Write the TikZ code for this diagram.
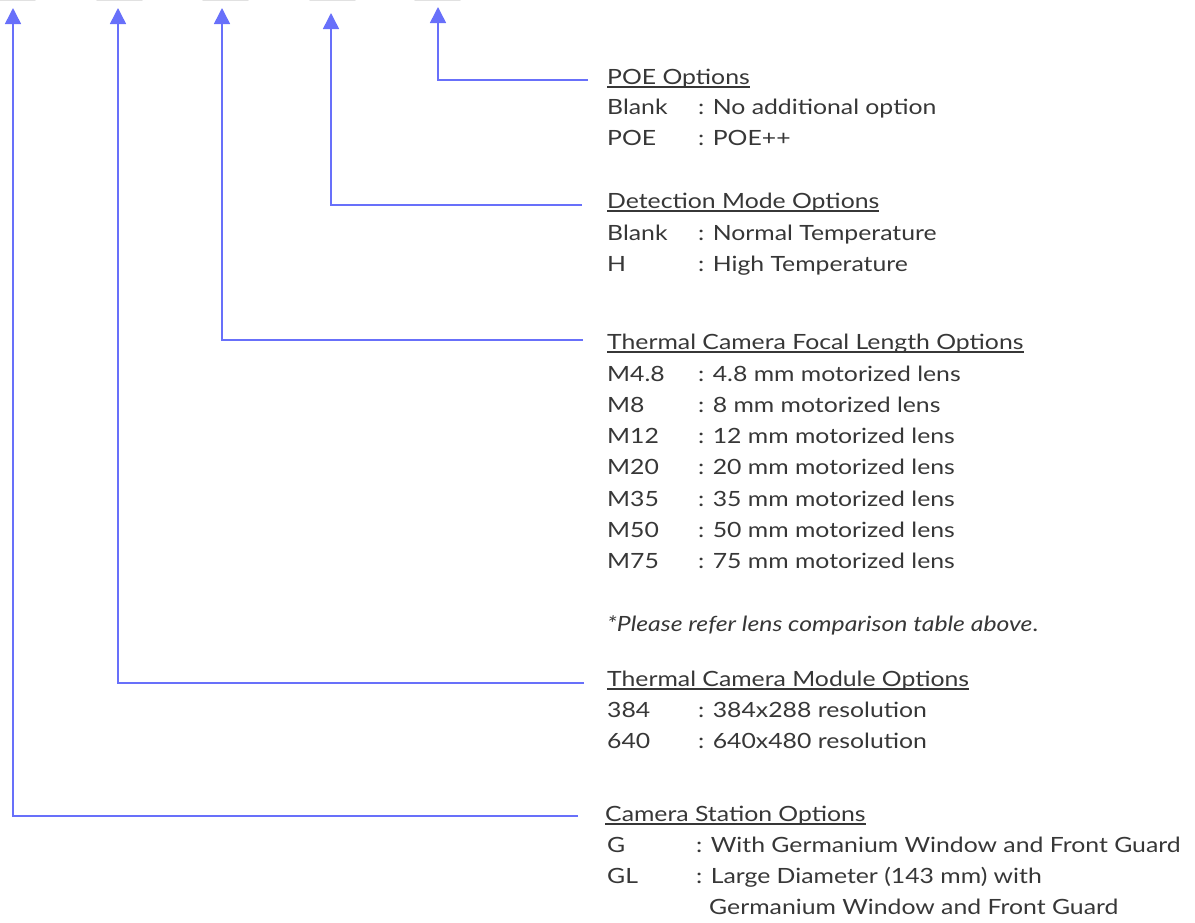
\documentclass[tikz,border=0pt]{standalone}
\usepackage{fontspec}
\setmainfont{Lato}[FakeStretch=1.18]
\usetikzlibrary{arrows.meta}
\definecolor{linec}{RGB}{104,112,250}
\definecolor{txt}{RGB}{55,55,55}
\definecolor{boxedge}{RGB}{225,225,225}
\tikzset{
  lbl/.style={anchor=base west, inner sep=0pt, text=txt, font=\fontsize{21}{25}\selectfont},
  hdr/.style={lbl},
  conn/.style={draw=linec, line width=1.5pt, -{Triangle[width=16pt,length=16pt]}},
  uline/.style={draw=txt, line width=1.1pt},
  topedge/.style={draw=boxedge, line width=2pt, line cap=round}
}
\begin{document}
\begin{tikzpicture}[x=1pt,y=-1pt]
\useasboundingbox (0,0) rectangle (1195,922);
% faint bottom edges of boxes above
\foreach \a/\b in {-5/35,97/142,203/248,310/355,415/460}
  \draw[topedge] (\a,0) -- (\b,0);

% arrow tips
\coordinate (t1) at (13,8);
\coordinate (t2) at (118,8);
\coordinate (t3) at (222,8);
\coordinate (t4) at (331,13);
\coordinate (t5) at (438,7);

% line ends
\coordinate (e5) at (588,80);
\coordinate (e4) at (582,205);
\coordinate (e3) at (583,340);
\coordinate (e2) at (584,683);
\coordinate (e1) at (578,816);

% POE
\node[hdr] (h5) at (607,84) {POE Options};
\node[lbl] (p1a) at (607,114) {Blank};
\node[lbl] (p1b) at (698,114) {: No additional option};
\node[lbl] (p2a) at (607,145) {POE};
\node[lbl] (p2b) at (698,145) {: POE++};

% Detection
\node[hdr] (h4) at (607,208) {Detection Mode Options};
\node[lbl] (d1a) at (607,240) {Blank};
\node[lbl] (d1b) at (698,240) {: Normal Temperature};
\node[lbl] (d2a) at (607,271) {H};
\node[lbl] (d2b) at (698,271) {: High Temperature};

% Focal length
\node[hdr] (h3) at (607,349) {Thermal Camera Focal Length Options};
\node[lbl] (f1a) at (607,381) {M4.8};
\node[lbl] (f1b) at (698,381) {: 4.8 mm motorized lens};
\node[lbl] (f2a) at (607,412) {M8};
\node[lbl] (f2b) at (698,412) {: 8 mm motorized lens};
\node[lbl] (f3a) at (607,443) {M12};
\node[lbl] (f3b) at (698,443) {: 12 mm motorized lens};
\node[lbl] (f4a) at (607,474) {M20};
\node[lbl] (f4b) at (698,474) {: 20 mm motorized lens};
\node[lbl] (f5a) at (607,506) {M35};
\node[lbl] (f5b) at (698,506) {: 35 mm motorized lens};
\node[lbl] (f6a) at (607,537) {M50};
\node[lbl] (f6b) at (698,537) {: 50 mm motorized lens};
\node[lbl] (f7a) at (607,568) {M75};
\node[lbl] (f7b) at (698,568) {: 75 mm motorized lens};
\node[lbl] (note) at (607,631) {\itshape *Please refer lens comparison table above\upshape.};

% Module
\node[hdr] (h2) at (607,686) {Thermal Camera Module Options};
\node[lbl] (m1a) at (607,717) {384};
\node[lbl] (m1b) at (698,717) {: 384x288 resolution};
\node[lbl] (m2a) at (607,748) {640};
\node[lbl] (m2b) at (698,748) {: 640x480 resolution};

% Station
\node[hdr] (h1) at (605,821) {Camera Station Options};
\node[lbl] (s1a) at (607,852) {G};
\node[lbl] (s1b) at (696,852) {: With Germanium Window and Front Guard};
\node[lbl] (s2a) at (607,883) {GL};
\node[lbl] (s2b) at (696,883) {: Large Diameter (143 mm) with};
\node[lbl] (s3b) at (709,914) {Germanium Window and Front Guard};

% underlines
\foreach \h in {h1,h2,h3,h4,h5}
  \draw[uline] ([yshift=-3pt]\h.base west) -- ([yshift=-3pt]\h.base east);

% connectors
\draw[conn] (e5) -| (t5);
\draw[conn] (e4) -| (t4);
\draw[conn] (e3) -| (t3);
\draw[conn] (e2) -| (t2);
\draw[conn] (e1) -| (t1);
\end{tikzpicture}
\end{document}
